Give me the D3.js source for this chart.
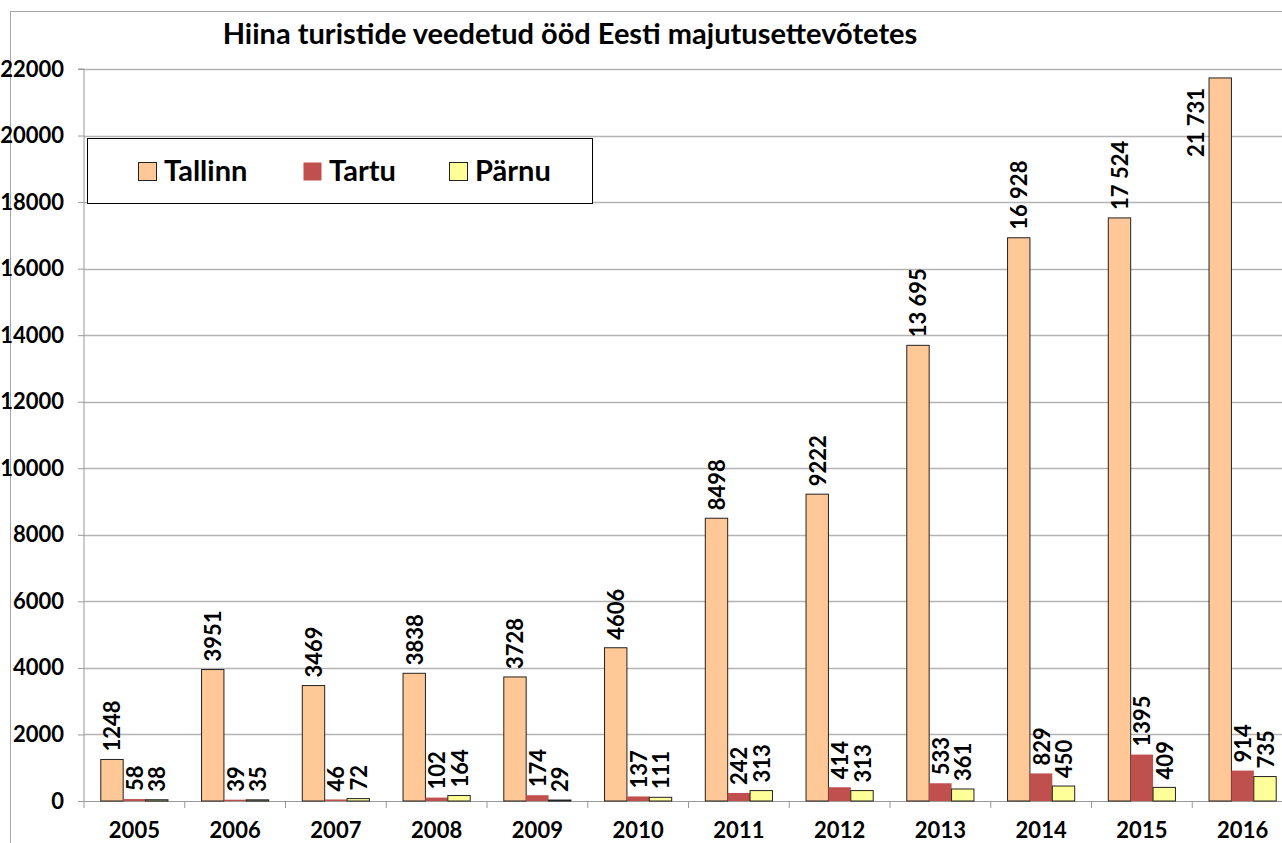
<!DOCTYPE html>
<html>
<head>
<meta charset="utf-8">
<script src="https://cdn.jsdelivr.net/npm/d3@7"></script>
<style>
  body { margin: 0; background: #fff; }
  svg { display: block; font-family: Lato, "Open Sans", sans-serif; font-weight: bold; }
</style>
</head>
<body>
<script>
// andmed
const years = ["2005","2006","2007","2008","2009","2010","2011","2012","2013","2014","2015","2016"];
const seriesNames = ["Tallinn", "Tartu", "Pärnu"];
const tallinn = [1248, 3951, 3469, 3838, 3728, 4606, 8498, 9222, 13695, 16928, 17524, 21731];
const tartu   = [58, 39, 46, 102, 174, 137, 242, 414, 533, 829, 1395, 914];
const parnu   = [38, 35, 72, 164, 29, 111, 313, 313, 361, 450, 409, 735];
const yTicks  = [0, 2000, 4000, 6000, 8000, 10000, 12000, 14000, 16000, 18000, 20000, 22000];

const colors = {"Tallinn": "#FFC896", "Tartu": "#C0504D", "Pärnu": "#FFFF99"};
const strokes = {"Tallinn": "#222", "Tartu": "none", "Pärnu": "#222"};

const values = {"Tallinn": tallinn, "Tartu": tartu, "Pärnu": parnu};

const W = 1282, H = 843;
const plotLeft = 84, plotTop = 69, plotBottom = 801;
const catStep = 100.75;

const svg = d3.select("body").append("svg")
    .attr("width", W)
    .attr("height", H);

// raam
svg.append("rect")
    .attr("x", 10.5).attr("y", 11.5)
    .attr("width", 1400).attr("height", 1000)
    .attr("fill", "none")
    .attr("stroke", "#a6a6a6");

const y = d3.scaleLinear()
    .domain([0, 22000])
    .range([plotBottom, plotTop]);

const x0 = d3.scaleBand()
    .domain(years)
    .range([plotLeft, plotLeft + catStep * years.length]);

const x1 = d3.scaleBand()
    .domain(seriesNames)
    .range([0, x0.bandwidth()])
    .paddingOuter(0.75);

// ruudustik
svg.append("g")
    .selectAll("line")
    .data(yTicks.filter(d => d > 0))
    .enter()
    .append("line")
    .attr("x1", plotLeft).attr("x2", W)
    .attr("y1", d => Math.round(y(d)) + 0.5)
    .attr("y2", d => Math.round(y(d)) + 0.5)
    .attr("stroke", "#b4b4b4")
    .attr("stroke-width", 1.3);

// y telg
const axisY = d3.axisLeft(y)
    .tickValues(yTicks)
    .tickSize(6)
    .tickPadding(14)
    .tickFormat(d => d);

const gy = svg.append("g")
    .attr("transform", `translate(${plotLeft},0)`)
    .call(axisY);
gy.select(".domain").attr("stroke", "#999").attr("d", `M-6,${plotTop}H0V${plotBottom}`);
gy.selectAll(".tick line").attr("stroke", "#999");
gy.selectAll(".tick text")
    .attr("fill", "#000")
    .style("font-size", "22px")
    .style("font-family", "Lato, sans-serif")
    .style("font-weight", "bold");

// x telg
const axisX = d3.axisBottom(x0)
    .tickSize(0)
    .tickPadding(21);

const gx = svg.append("g")
    .attr("transform", `translate(0,${plotBottom})`)
    .call(axisX);
gx.select(".domain").attr("stroke", "#999").attr("d", `M${plotLeft},0.5H${W}`);
gx.selectAll(".tick text")
    .attr("fill", "#000")
    .style("font-size", "22px")
    .style("font-family", "Lato, sans-serif")
    .style("font-weight", "bold");

// kategooriate vahejooned
gx.append("g")
    .selectAll("line")
    .data(years)
    .enter()
    .append("line")
    .attr("x1", d => x0(d)).attr("x2", d => x0(d))
    .attr("y1", 0).attr("y2", 7)
    .attr("stroke", "#999");

// tulbad
const groups = svg.append("g")
    .selectAll("g")
    .data(years)
    .enter()
    .append("g")
    .attr("transform", d => `translate(${x0(d)},0)`);

const bars = groups.selectAll("rect")
    .data((d, i) => seriesNames.map(s => ({s: s, v: values[s][i]})))
    .enter()
    .append("rect")
    .attr("x", d => x1(d.s))
    .attr("y", d => y(d.v))
    .attr("width", x1.bandwidth())
    .attr("height", d => plotBottom - y(d.v))
    .attr("fill", d => colors[d.s])
    .attr("stroke", d => strokes[d.s])
    .attr("stroke-width", 1);

// väärtuste sildid
const fmtSpace = d3.formatLocale({decimal: ",", thousands: " ", grouping: [3], currency: ["", ""]}).format(",d");
const labelText = v => v >= 10000 ? fmtSpace(v) : String(v);
const fitsAbove = v => y(v) - 80 >= plotTop;

groups.selectAll("text")
    .data((d, i) => seriesNames.map(s => ({s: s, v: values[s][i]})))
    .enter()
    .append("text")
    .attr("transform", d => {
        const cx = x1(d.s) + x1.bandwidth() / 2;
        const top = y(d.v);
        if (!fitsAbove(d.v)) {
            // ei mahu üles, pannakse tulba kõrvale
            return `translate(${x1(d.s) - 14},${top + 10}) rotate(-90)`;
        }
        return `translate(${cx},${top - 8}) rotate(-90)`;
    })
    .attr("text-anchor", d => fitsAbove(d.v) ? "start" : "end")
    .attr("dominant-baseline", "central")
    .style("font-size", "22px")
    .text(d => labelText(d.v));

// pealkiri
svg.append("text")
    .attr("x", 570)
    .attr("y", 44)
    .attr("text-anchor", "middle")
    .style("font-size", "29px")
    .text("Hiina turistide veedetud ööd Eesti majutusettevõtetes");

// legend
const legend = svg.append("g");
legend.append("rect")
    .attr("x", 87.5).attr("y", 138.5)
    .attr("width", 505).attr("height", 65)
    .attr("fill", "#fff")
    .attr("stroke", "#000");

const legendX = [138, 303, 449];
const item = legend.selectAll("g.item")
    .data(seriesNames)
    .enter()
    .append("g")
    .attr("class", "item")
    .attr("transform", (d, i) => `translate(${legendX[i]},162)`);

item.append("rect")
    .attr("x", 0.5).attr("y", 0.5)
    .attr("width", 18).attr("height", 18)
    .attr("fill", d => colors[d])
    .attr("stroke", d => strokes[d] === "none" ? "none" : "#222");

item.append("text")
    .attr("x", 26)
    .attr("y", 19)
    .style("font-size", "29px")
    .text(d => d);
</script>
</body>
</html>
